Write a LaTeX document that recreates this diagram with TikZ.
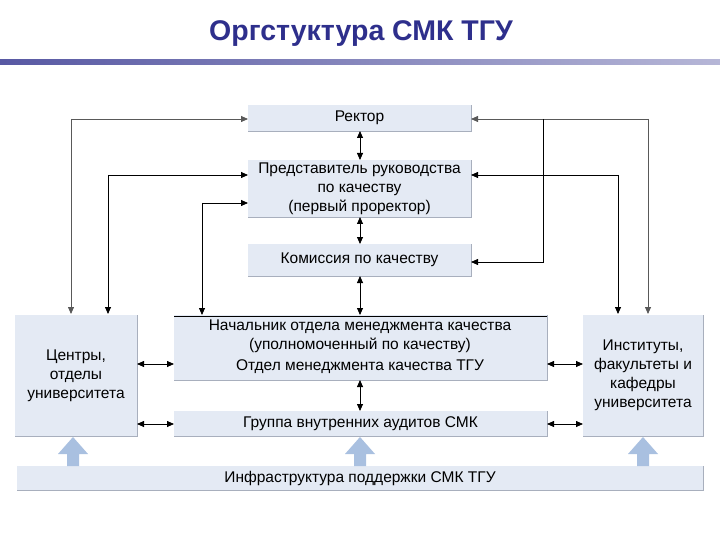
\documentclass[tikz,border=0pt]{standalone}
\usepackage{fontspec}
\setmainfont{Liberation Sans}
\usetikzlibrary{arrows.meta}
\definecolor{boxfill}{HTML}{E4EAF4}
\definecolor{boxedge}{HTML}{A8AFBD}
\definecolor{titleblue}{HTML}{2E2F8C}
\definecolor{bigarrow}{HTML}{A9C0E0}
\tikzset{
  box/.style={fill=boxfill,inner sep=0pt,align=center,font=\fontsize{15.5}{19}\selectfont},
  link/.style={line width=0.8pt,-{Triangle[length=7pt,width=6pt]}},
  dbl/.style={line width=0.8pt,{Triangle[length=7pt,width=6pt]}-{Triangle[length=7pt,width=6pt]}},
}
\newcommand{\mybox}[5]{% name, x1,y1,x2,y2
  \fill[boxfill] (#2,#3) rectangle (#4,#5);
  \draw[boxedge,line width=0.6pt] (#2,#5) -- (#4,#5) -- (#4,#3);
  \coordinate (#1) at ({(#2+#4)/2},{(#3+#5)/2});
}
\newcommand{\uparr}[1]{%
  \fill[bigarrow] (#1-6,466) -- (#1-6,454) -- (#1-15,454) -- (#1,437) -- (#1+15,454) -- (#1+6,454) -- (#1+6,466) -- cycle;
}
\begin{document}
\begin{tikzpicture}[x=1pt,y=-1pt]
\useasboundingbox (0,0) rectangle (720,540);
\fill[white] (0,0) rectangle (720,540);
% title
\node[font=\bfseries\fontsize{28.5}{32}\selectfont,text=titleblue] (title) at (361,34) {Оргстуктура СМК ТГУ};
\shade[left color=titleblue!80,right color=titleblue!35] (0,60) rectangle (720,65);
% boxes
\mybox{rb}{248}{105}{471}{131}
\mybox{pb}{248}{160}{471}{217}
\mybox{kb}{248}{244}{471}{276}
\mybox{nb}{174}{315}{547}{380}
\mybox{ab}{174}{411}{547}{436}
\mybox{lb}{15}{315}{137}{436}
\mybox{ib}{583}{315}{703}{436}
\mybox{fb}{17}{466}{703}{490}
\draw[line width=0.8pt] (174,316) -- (547,316);
\node[box] (rector) at (rb) {Ректор};
\node[box] (pred) at (pb) {Представитель руководства\\по качеству\\(первый проректор)};
\node[box] (kom) at (kb) {Комиссия по качеству};
\node[box] (nach1) at (360,327) {Начальник отдела менеджмента качества};
\node[box] (nach2) at (360,345) {(уполномоченный по качеству)};
\node[box] (otd) at (360,367) {Отдел менеджмента качества ТГУ};
\node[box] (aud) at (ab) {Группа внутренних аудитов СМК};
\node[box] (cent) at (lb) {Центры,\\отделы\\университета};
\node[box] (inst) at (ib) {Институты,\\факультеты и\\кафедры\\университета};
\node[box] (infra) at (fb) {Инфраструктура поддержки СМК ТГУ};
% named anchors
\coordinate (rL) at (248,119); \coordinate (rR) at (471,119);
\coordinate (pL1) at (248,175); \coordinate (pL2) at (248,203); \coordinate (pR) at (471,175);
\coordinate (kR) at (471,262);
\coordinate (lT1) at (71,314); \coordinate (lT2) at (108,314);
\coordinate (nT) at (202,315);
\coordinate (iT1) at (618,314); \coordinate (iT2) at (648,314);
% vertical double arrows
\draw[dbl] (360,131) -- (360,160);
\draw[dbl] (360,217) -- (360,244);
\draw[dbl] (360,276) -- (360,315);
\draw[dbl] (360,380) -- (360,411);
% horizontal double arrows
\draw[dbl] (137,364) -- (174,364);
\draw[dbl] (137,424) -- (174,424);
\draw[dbl] (547,364) -- (583,364);
\draw[dbl] (547,424) -- (583,424);
% left connections
\draw[link,gray!70!black] (71,119) -- (rL);
\draw[link,gray!70!black] (71,119) -- (lT1);
\draw[link] (108,175) -- (pL1);
\draw[link] (108,175) -- (lT2);
\draw[link] (202,203) -- (pL2);
\draw[link] (202,203) -- (nT);
% right connections
\draw[link,gray!70!black] (648,119) -- (rR);
\draw[link,gray!70!black] (648,119) -- (iT2);
\draw[link] (543,119) |- (kR);
\draw[link] (618,175) -- (pR);
\draw[link] (618,175) -- (iT1);
% big up arrows
\uparr{73}\uparr{360}\uparr{643}
\end{tikzpicture}
\end{document}
